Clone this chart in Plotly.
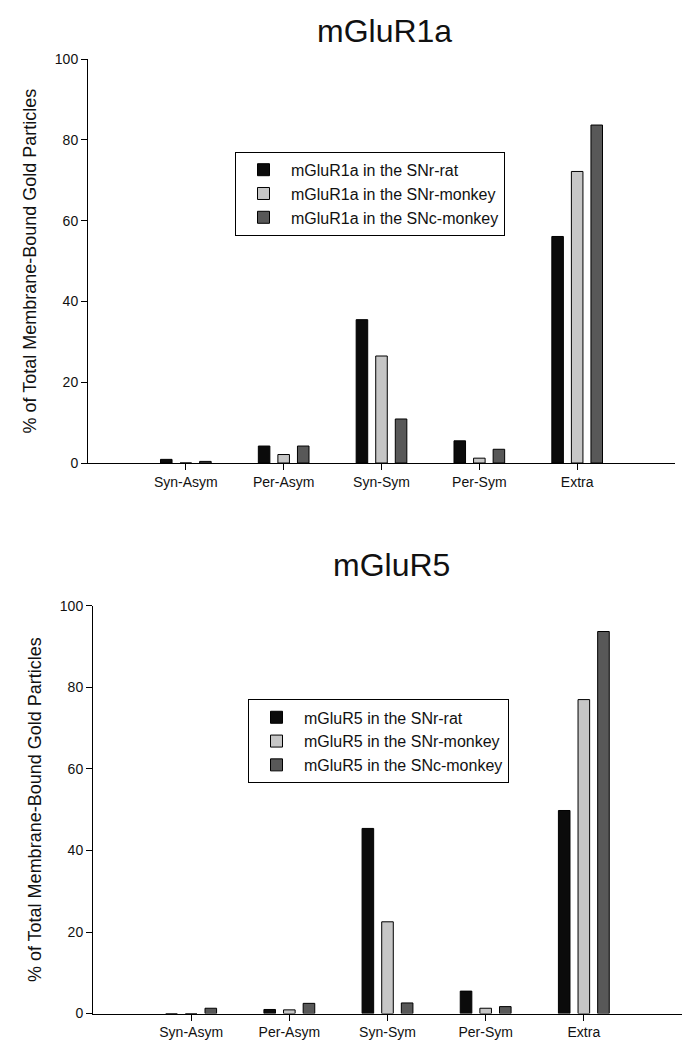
import plotly.graph_objects as go

# ---- data ----
categories = ["Syn-Asym", "Per-Asym", "Syn-Sym", "Per-Sym", "Extra"]

r1_titles = "mGluR1a"
r1_names = ["mGluR1a in the SNr-rat", "mGluR1a in the SNr-monkey", "mGluR1a in the SNc-monkey"]
r1_snr_rat = [0.9, 4.2, 35.5, 5.5, 56.1]
r1_snr_monkey = [0.0, 2.1, 26.5, 1.2, 72.2]
r1_snc_monkey = [0.4, 4.2, 10.9, 3.4, 83.7]

r5_titles = "mGluR5"
r5_names = ["mGluR5 in the SNr-rat", "mGluR5 in the SNr-monkey", "mGluR5 in the SNc-monkey"]
r5_snr_rat = [0.0, 1.0, 45.4, 5.5, 49.8]
r5_snr_monkey = [0.0, 0.9, 22.5, 1.3, 77.0]
r5_snc_monkey = [1.3, 2.5, 2.6, 1.7, 93.7]

y_ticks = [0, 20, 40, 60, 80, 100]
y_title = "% of Total Membrane-Bound Gold Particles"

# ---- style ----
colors = ["#0b0b0b", "#c6c6c6", "#585858"]
FONT = "Liberation Sans, Arial, Helvetica, sans-serif"
W, H = 682, 1057

fig = go.Figure()

for vals, name, col in zip([r1_snr_rat, r1_snr_monkey, r1_snc_monkey], r1_names, colors):
    fig.add_trace(go.Bar(x=categories, y=vals, name=name, xaxis="x", yaxis="y",
                         legend="legend",
                         marker=dict(color=col, line=dict(color="black", width=1))))
for vals, name, col in zip([r5_snr_rat, r5_snr_monkey, r5_snc_monkey], r5_names, colors):
    fig.add_trace(go.Bar(x=categories, y=vals, name=name, xaxis="x2", yaxis="y2",
                         legend="legend2",
                         marker=dict(color=col, line=dict(color="black", width=1))))

def xa(domain, anchor):
    return dict(domain=domain, anchor=anchor, type="category", range=[-1, 5],
                showline=True, linecolor="black", linewidth=1, ticks="outside",
                ticklen=6, tickcolor="black", showgrid=False, zeroline=False,
                tickfont=dict(size=14, color="#111", family=FONT), fixedrange=True)

def ya(domain, anchor):
    return dict(domain=domain, anchor=anchor, range=[0, 100], tickvals=y_ticks,
                showline=True, linecolor="black", linewidth=1, ticks="outside",
                ticklen=6, tickcolor="black", showgrid=False, zeroline=False,
                tickfont=dict(size=14, color="#111", family=FONT),
                title=dict(text=y_title, font=dict(size=18, color="#111", family=FONT), standoff=13))

legend_common = dict(xanchor="left", yanchor="top", bordercolor="black", borderwidth=1,
                     bgcolor="white", font=dict(size=16, color="#111", family=FONT),
                     itemwidth=45, tracegroupgap=0)

fig.update_layout(
    width=W, height=H,
    margin=dict(l=0, r=0, t=0, b=0),
    paper_bgcolor="white", plot_bgcolor="white",
    barmode="group", bargap=0.4, bargroupgap=0.41,
    font=dict(family=FONT, color="#111"),
    xaxis=xa([88 / W, 675 / W], "y"),
    yaxis=ya([1 - 462 / H, 1 - 52 / H], "x"),
    xaxis2=xa([93 / W, 1.0], "y2"),
    yaxis2=ya([1 - 1021 / H, 1 - 607 / H], "x2"),
    legend=dict(x=235 / W, y=1 - 146 / H, **legend_common),
    legend2=dict(x=248 / W, y=1 - 702 / H, **legend_common),
    annotations=[
        dict(text=r1_titles, x=384 / W, y=1 - 23 / H, xref="paper", yref="paper",
             showarrow=False, xanchor="center", yanchor="middle",
             font=dict(size=32, color="#111", family=FONT)),
        dict(text=r5_titles, x=391 / W, y=1 - 566 / H, xref="paper", yref="paper",
             showarrow=False, xanchor="center", yanchor="middle",
             font=dict(size=32, color="#111", family=FONT)),
    ],
)

fig.write_html("out.html",
               config={"displayModeBar": False},
               post_script="document.body.style.margin='0';document.body.style.overflow='hidden';")
